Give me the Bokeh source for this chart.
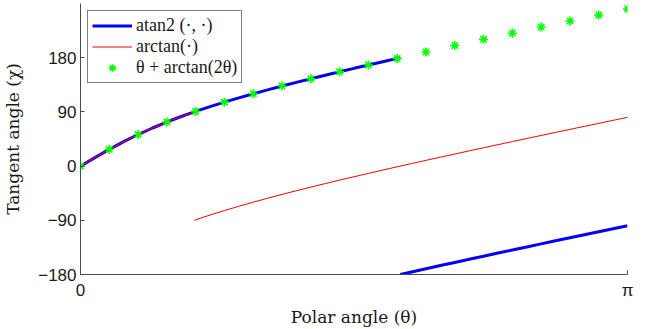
import math

from bokeh.plotting import figure
from bokeh.models import Range1d, FixedTicker, Legend, LegendItem
from bokeh.embed import file_html
from bokeh.resources import INLINE

# Polar angle samples (rad), 0 .. pi in 38 steps
theta = [0.0, 0.0827, 0.1653, 0.2480, 0.3307, 0.4134, 0.4960, 0.5787, 0.6614,
         0.7441, 0.8267, 0.9094, 0.9921, 1.0748, 1.1574, 1.2401, 1.3228,
         1.4054, 1.4881, 1.5708, 1.6535, 1.7361, 1.8188, 1.9015, 1.9842,
         2.0668, 2.1495, 2.2322, 2.3149, 2.3975, 2.4802, 2.5629, 2.6456,
         2.7282, 2.8109, 2.8936, 2.9762, 3.0589, 3.1416]

# Unwrapped tangent angle chi (deg) at each sample
chi = [0.0, 14.13, 27.77, 40.59, 52.43, 63.27, 73.19, 82.33, 90.81, 98.73,
       106.20, 113.30, 120.09, 126.63, 132.95, 139.09, 145.08, 150.94, 156.69,
       162.34, 167.91, 173.41, 178.84, 184.22, 189.54, 194.82, 200.06, 205.27,
       210.44, 215.59, 220.71, 225.80, 230.88, 235.93, 240.97, 245.99, 250.99,
       255.98, 260.96]

# Where the wrapped curves jump (rad)
wrap_theta_atan2 = 1.8367   # chi = 180
wrap_theta_arctan = 0.6535  # chi = 90

# Marker samples: every other polar angle sample
marker_theta = theta[::2]
marker_chi = chi[::2]

legend_labels = ["atan2 (\u00b7, \u00b7)", "arctan(\u00b7)", "\u03b8 + arctan(2\u03b8)"]

y_ticks = [-180, -90, 0, 90, 180]
y_tick_labels = {-180: "\u2212180", -90: "\u221290", 0: "0", 90: "90", 180: "180"}
x_ticks = [0, math.pi]
x_tick_labels = {0: "0", math.pi: "\u03c0"}

nan = float("nan")


def wrapped(cut, top, period):
    """Split the chi curve at `cut`, shifting the later part down by `period`."""
    xs = [t for t in theta if t < cut] + [cut, nan, cut] + [t for t in theta if t > cut]
    ys = ([c for t, c in zip(theta, chi) if t < cut] + [top, nan, top - period]
          + [c - period for t, c in zip(theta, chi) if t > cut])
    return xs, ys


# atan2 branch: (-180, 180];  arctan branch: (-90, 90]
ax, ay = wrapped(wrap_theta_atan2, 180, 360)
rx, ry = wrapped(wrap_theta_arctan, 90, 180)

p = figure(width=646, height=329, output_backend="svg", toolbar_location=None,
           x_range=Range1d(0, math.pi), y_range=Range1d(-180, 270),
           min_border_left=80, min_border_right=19, min_border_top=3,
           min_border_bottom=53)
p.outline_line_color = None
p.grid.visible = False
p.background_fill_color = "white"
p.border_fill_color = "white"

r_blue = p.line(ax, ay, line_color="#0000ff", line_width=3)
r_red = p.line(rx, ry, line_color="#ff0000", line_width=1)
r_green = p.scatter(marker_theta, marker_chi, marker="asterisk", size=9,
                    line_color="#00ff00", line_width=1.6)

axis_color = "#4a4a4a"
for ax_ in (p.xaxis[0], p.yaxis[0]):
    ax_.axis_line_color = axis_color
    ax_.major_tick_line_color = axis_color
    ax_.minor_tick_line_color = None
    ax_.major_tick_in = 4
    ax_.major_tick_out = 0
    ax_.major_label_text_font = "Liberation Sans"
    ax_.major_label_text_font_size = "17px"
    ax_.major_label_text_color = "#1a1a1a"
    ax_.axis_label_text_font = "DejaVu Serif"
    ax_.axis_label_text_font_size = "17px"
    ax_.axis_label_text_font_style = "normal"
    ax_.axis_label_text_color = "#1a1a1a"

p.xaxis.ticker = FixedTicker(ticks=x_ticks)
p.xaxis.major_label_overrides = x_tick_labels
p.xaxis.major_label_standoff = 6
p.xaxis.axis_label = "Polar angle (\u03b8)"
p.xaxis.axis_label_standoff = 4

p.yaxis.ticker = FixedTicker(ticks=y_ticks)
p.yaxis.major_label_overrides = y_tick_labels
p.yaxis.major_label_standoff = 4
p.yaxis.axis_label = "Tangent angle (\u03c7)"
p.yaxis.axis_label_standoff = 12

legend = Legend(items=[
    LegendItem(label=legend_labels[0], renderers=[r_blue]),
    LegendItem(label=legend_labels[1], renderers=[r_red]),
    LegendItem(label=legend_labels[2], renderers=[r_green]),
], location="top_left")
legend.label_text_font = "Liberation Serif"
legend.label_text_font_size = "18px"
legend.label_text_color = "#1a1a1a"
legend.margin = 7
legend.padding = 4
legend.spacing = 0
legend.glyph_width = 40
legend.glyph_height = 19
legend.label_height = 19
legend.label_standoff = 4
legend.border_line_color = "black"
legend.border_line_width = 1
legend.background_fill_alpha = 1.0
p.add_layout(legend)

open("out.html", "w").write(file_html(p, INLINE))
